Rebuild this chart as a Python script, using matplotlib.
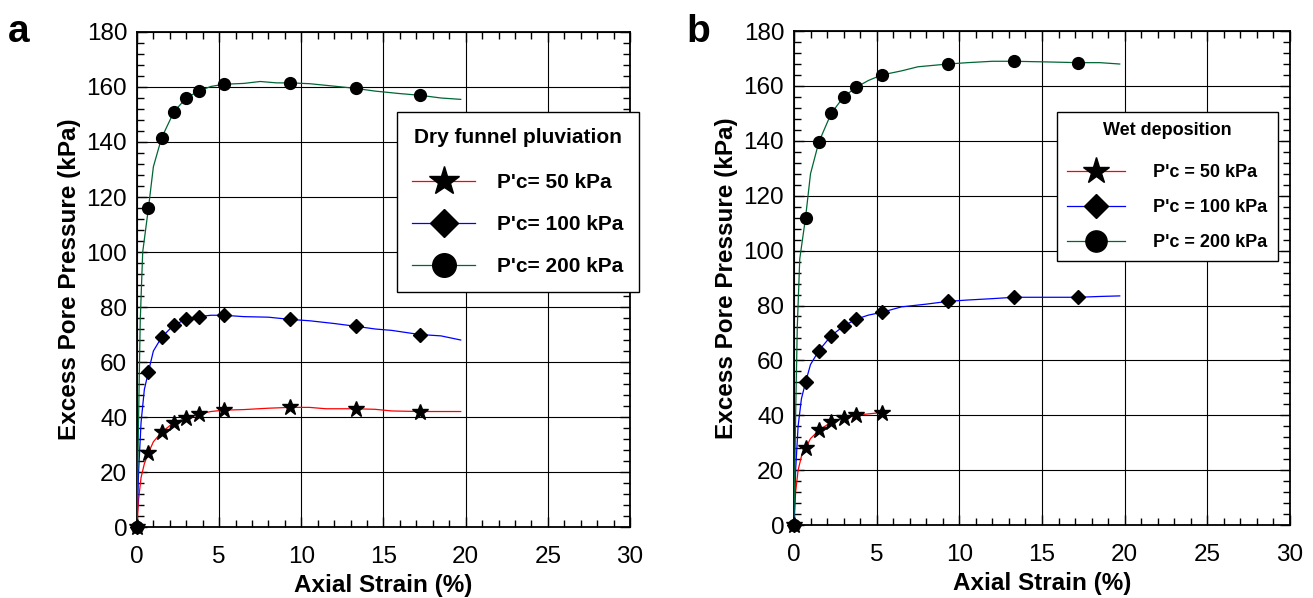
import matplotlib
matplotlib.use("Agg")
import matplotlib.pyplot as plt
from matplotlib.ticker import MultipleLocator
from matplotlib.lines import Line2D

plt.rcParams['font.family'] = ['Liberation Sans', 'DejaVu Sans']

# measured points (markers)
strain_pts = [0, 0.7, 1.5, 2.25, 3.0, 3.75, 5.3, 9.3, 13.3, 17.2]
dry_50_pts = [0, 27, 34.5, 38, 39.5, 41, 42.5, 43.5, 43, 42]
dry_100_pts = [0, 56.5, 69, 73.5, 75.5, 76.5, 77, 75.5, 73, 70]
dry_200_pts = [0, 116, 141.5, 151, 156, 158.5, 161, 161.5, 159.5, 157]

wet_strain_50 = [0, 0.7, 1.5, 2.25, 3.0, 3.75, 5.3]
wet_50_pts = [0, 28, 34.5, 37.5, 39, 40, 41]
wet_100_pts = [0, 52, 63.5, 69, 72.5, 75, 77.5, 81.5, 83, 83]
wet_200_pts = [0, 112, 139.5, 150, 156, 159.5, 164, 168, 169, 168.5]

# continuous test records (thin lines)
dry_50_x = [0, 0.1, 0.25, 0.45, 0.7, 1.0, 1.5, 2.25, 3.0, 3.75, 4.5, 5.3, 6.5, 8, 9.3, 10.5,
            11.5, 13.3, 14.5, 15.5, 17.2, 18.5, 19.7]
dry_50_y = [0, 10, 18, 23, 27, 31, 34.5, 38, 39.5, 41, 42, 42.5, 42.7, 43.2, 43.5, 43.5,
            43, 43, 42.8, 42.2, 42, 42, 42]
dry_100_x = [0, 0.1, 0.25, 0.45, 0.7, 1.0, 1.5, 2.25, 3.0, 3.75, 4.5, 5.3, 6.5, 8, 9.3, 10.5,
             12, 13.3, 14.5, 15.5, 17.2, 18.5, 19.7]
dry_100_y = [0, 20, 38, 50, 56.5, 64, 69, 73.5, 75.5, 76.5, 77, 77, 76.5, 76.3, 75.5, 75,
             74, 73, 72, 71.5, 70, 69.5, 68]
dry_200_x = [0, 0.1, 0.2, 0.35, 0.7, 1.0, 1.5, 2.25, 3.0, 3.75, 4.5, 5.3, 6.5, 7.5, 8.5, 9.3,
             10.5, 12, 13.3, 14.5, 16, 17.2, 18.5, 19.7]
dry_200_y = [0, 40, 75, 100, 116, 131, 141.5, 151, 156, 158.5, 160.2, 161, 161.3, 162, 161.5,
             161.5, 161.2, 160.3, 159.5, 158.5, 157.6, 157, 156, 155.5]

wet_50_x = [0, 0.1, 0.25, 0.45, 0.7, 1.0, 1.5, 2.25, 3.0, 3.75, 4.5, 5.3, 5.8]
wet_50_y = [0, 12, 20, 25, 28, 31.5, 34.5, 37.5, 39, 40, 40.5, 41, 41.5]
wet_100_x = [0, 0.1, 0.25, 0.45, 0.7, 1.0, 1.5, 2.25, 3.0, 3.75, 4.5, 5.3, 6.5, 8, 9.3, 10.5,
             12, 13.3, 15, 17.2, 18.5, 19.7]
wet_100_y = [0, 20, 36, 46, 52, 58.5, 63.5, 69, 72.5, 75, 76.5, 77.5, 79.5, 80.5, 81.5, 82,
             82.5, 83, 83, 83, 83.3, 83.5]
wet_200_x = [0, 0.1, 0.2, 0.35, 0.7, 1.0, 1.5, 2.25, 3.0, 3.75, 4.5, 5.3, 6.5, 7.5, 9.3,
             10.5, 12, 13.3, 15, 17.2, 18.5, 19.7]
wet_200_y = [0, 40, 72, 97, 112, 128, 139.5, 150, 156, 159.5, 162, 164, 165.5, 167, 168,
             168.5, 169, 169, 168.8, 168.5, 168.5, 168]

RED, BLUE, GREEN = "#ff0000", "#0000ff", "#006633"

fig = plt.figure(figsize=(13.13, 5.98), dpi=100)
ax_a = fig.add_axes([0.1043, 0.1187, 0.3755, 0.8278])
ax_b = fig.add_axes([0.6047, 0.1220, 0.3778, 0.8260])


def style_axes(ax):
    ax.set_xlim(0, 30)
    ax.set_ylim(0, 180)
    ax.xaxis.set_major_locator(MultipleLocator(5))
    ax.xaxis.set_minor_locator(MultipleLocator(1))
    ax.yaxis.set_major_locator(MultipleLocator(20))
    ax.yaxis.set_minor_locator(MultipleLocator(4))
    ax.tick_params(which='both', direction='in', top=True, right=True, labelsize=17.5)
    ax.tick_params(axis='x', which='major', pad=14)
    ax.tick_params(axis='y', which='major', pad=7)
    ax.tick_params(which='major', length=7, width=1.0)
    ax.tick_params(which='minor', length=5, width=1.0)
    ax.grid(True, which='major', color='black', linewidth=0.8)
    for s in ax.spines.values():
        s.set_linewidth(1.3)
    ax.set_xlabel("Axial Strain (%)", fontsize=17.5, fontweight='bold', labelpad=4)
    ax.set_ylabel("Excess Pore Pressure (kPa)", fontsize=17.5, fontweight='bold', labelpad=4)


def draw_series(ax, x, y, px, py, color, marker, ms):
    ax.plot(x, y, color=color, linewidth=0.9, zorder=3)
    ax.plot(px, py, linestyle='none', marker=marker, markersize=ms,
            color='black', zorder=4, clip_on=False)


# panel a: dry funnel pluviation
draw_series(ax_a, dry_50_x, dry_50_y, strain_pts, dry_50_pts, RED, '*', 12)
draw_series(ax_a, dry_100_x, dry_100_y, strain_pts, dry_100_pts, BLUE, 'D', 7.5)
draw_series(ax_a, dry_200_x, dry_200_y, strain_pts, dry_200_pts, GREEN, 'o', 8.5)

# panel b: wet deposition
draw_series(ax_b, wet_50_x, wet_50_y, wet_strain_50, wet_50_pts, RED, '*', 12)
draw_series(ax_b, wet_100_x, wet_100_y, strain_pts, wet_100_pts, BLUE, 'D', 7.5)
draw_series(ax_b, wet_200_x, wet_200_y, strain_pts, wet_200_pts, GREEN, 'o', 8.5)

for ax in (ax_a, ax_b):
    style_axes(ax)


def legend_handles(labels, scale=1.0):
    return [Line2D([], [], color=RED, lw=0.9, marker='*', markersize=22 * scale,
                   markerfacecolor='black', markeredgecolor='black', label=labels[0]),
            Line2D([], [], color=BLUE, lw=0.9, marker='D', markersize=14 * scale,
                   markerfacecolor='black', markeredgecolor='black', label=labels[1]),
            Line2D([], [], color=GREEN, lw=0.9, marker='o', markersize=17 * scale,
                   markerfacecolor='black', markeredgecolor='black', label=labels[2])]


leg_a = ax_a.legend(handles=legend_handles(["P'c= 50 kPa", "P'c= 100 kPa", "P'c= 200 kPa"]),
                    title="Dry funnel pluviation", loc='upper left',
                    bbox_to_anchor=(0.527, 0.838), fancybox=False, framealpha=1,
                    edgecolor='black', prop={'size': 15, 'weight': 'bold'},
                    title_fontproperties={'size': 15, 'weight': 'bold'},
                    handlelength=3.0, handletextpad=1.05, labelspacing=1.1,
                    borderpad=0.75, borderaxespad=0)
leg_a.get_frame().set_linewidth(1.0)
leg_a.set_zorder(10)
leg_a._legend_box.sep = 19

leg_b = ax_b.legend(handles=legend_handles(["P'c = 50 kPa", "P'c = 100 kPa", "P'c = 200 kPa"], 0.9),
                    title="Wet deposition", loc='upper left',
                    bbox_to_anchor=(0.530, 0.836), fancybox=False, framealpha=1,
                    edgecolor='black', prop={'size': 13, 'weight': 'bold'},
                    title_fontproperties={'size': 13, 'weight': 'bold'},
                    handlelength=3.2, handletextpad=1.6, labelspacing=1.0,
                    borderpad=0.55, borderaxespad=0)
leg_b.get_frame().set_linewidth(1.0)
leg_b.set_zorder(10)
leg_b._legend_box.sep = 18

fig.text(0.006, 0.93, "a", fontsize=28, fontweight='bold')
fig.text(0.523, 0.93, "b", fontsize=28, fontweight='bold')

fig.savefig("out.png", dpi=100)
